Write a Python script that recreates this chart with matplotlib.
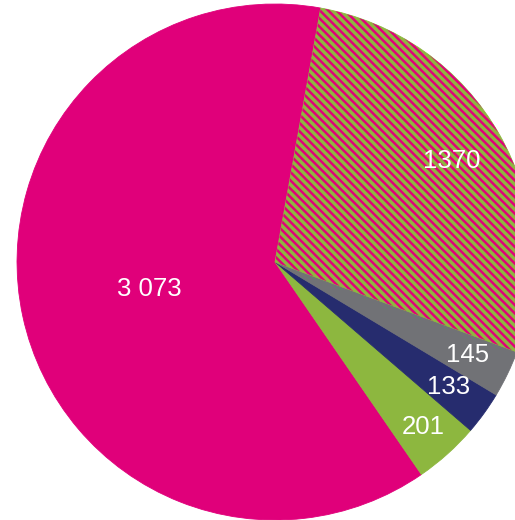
import matplotlib
matplotlib.use("Agg")
import matplotlib.pyplot as plt
from matplotlib.collections import LineCollection
import numpy as np

# Slice values, drawn counter-clockwise from the top boundary
values = [3073, 201, 133, 145, 1370]
labels = ["3 073", "201", "133", "145", "1370"]
colors = ["#E0007A", "#8DB73F", "#262C6E", "#717276", "#8DB73F"]
striped = [False, False, False, False, True]
stripe_color = "#E0007A"

fig = plt.figure(figsize=(5.15, 5.2), dpi=100)
ax = fig.add_axes([0, 0, 1, 1])

wedges, _ = ax.pie(values, colors=colors, startangle=79.8,
                   counterclock=True, radius=1.0, center=(0, 0),
                   wedgeprops=dict(linewidth=0.6))
for w, c in zip(wedges, colors):
    w.set_edgecolor(c)

# Diagonal magenta stripes over the striped slice, clipped to the wedge
step = 0.0322
for w, s in zip(wedges, striped):
    if not s:
        continue
    segs = [[(-1.2, 1.2 + c), (1.2, -1.2 + c)]
            for c in np.arange(-2.2, 2.2, step)]
    lc = LineCollection(segs, colors=stripe_color, linewidths=1.8,
                        antialiased=True, zorder=w.get_zorder() + 0.1)
    ax.add_collection(lc)
    lc.set_clip_path(w)

# Label radius for each slice (fraction of pie radius)
label_r = [0.50, 0.86, 0.83, 0.83, 0.79]
for w, lab, r in zip(wedges, labels, label_r):
    mid = np.deg2rad((w.theta1 + w.theta2) / 2)
    ax.text(r * np.cos(mid), r * np.sin(mid), lab, ha="center", va="center",
            color="white", fontsize=18.5, family="Liberation Sans", zorder=5)

ax.set_xlim(-1.066, 0.930)
ax.set_ylim(-1.0, 1.0155)
ax.set_aspect("auto")
ax.axis("off")

fig.savefig("out.png", dpi=100)
